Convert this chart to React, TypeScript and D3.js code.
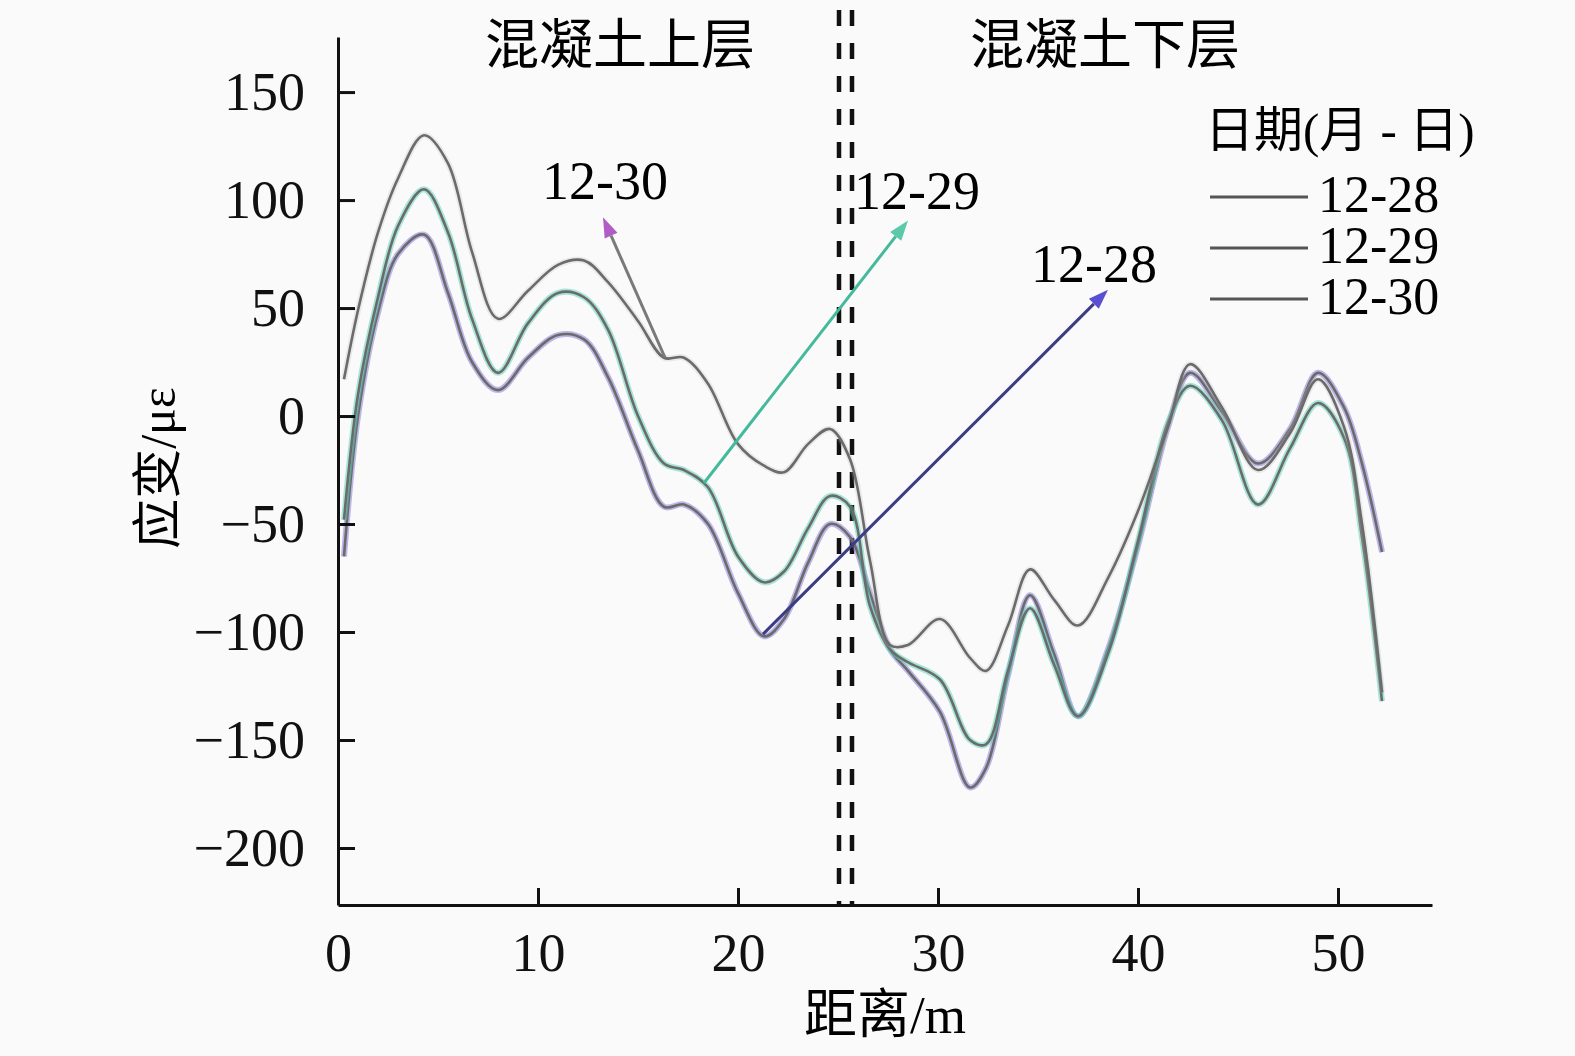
import * as React from 'react';
import {useEffect, useRef} from 'react';
import * as d3 from 'd3';

const W = 1575;
const H = 1056;
const FONT = "'Liberation Serif', 'Noto Sans CJK SC', serif";

// distance along the cable (m)
const distance = [0.3, 1, 2, 3, 4.3, 5.5, 6.7, 8, 9.5, 11, 12.3, 13.5, 15, 16.3, 17.3, 18.5, 20, 21.3, 22.3, 23.5, 24.6, 25.6, 26.6, 27.6, 28.5, 30.1, 31.6, 32.4, 33.5, 34.6, 35.8, 37, 38.5, 40, 41.5, 42.6, 44.2, 46, 47.6, 49, 50.3, 51.2, 52.2];

// strain (με)
const strain1228 = [-65, 0, 48, 75, 84, 57, 25, 12, 27, 37.5, 35.5, 18, -16, -42, -41, -50, -82, -102, -94, -68, -50, -56, -82, -108, -118, -137, -172, -163, -120, -83, -110, -139, -108, -60, -5, 20, 2, -22, -6, 20, 4, -22, -63];
const strain1229 = [-48, 10, 55, 88, 105, 85, 45, 20, 43, 57, 55, 40, 0, -22, -25, -33, -65, -77, -72, -52, -37, -42, -88, -108, -114, -122, -150, -152, -118, -89, -115, -139, -110, -58, -3, 14, -2, -41, -15, 6, -10, -56, -132];
const strain1230 = [17, 49, 85, 110, 130, 117, 76, 45, 58, 70, 72, 62, 44, 27, 27, 15, -13, -23, -26, -13, -6, -20, -67, -106, -106, -94, -112, -118, -97, -71, -85, -97, -75, -44, -5, 24, 4, -25, -8, 17, -5, -50, -128];

const dates = ['12-28', '12-29', '12-30'];
const series = [strain1228, strain1229, strain1230];
const haloColors = ['#7d72d8', '#4fd2b2', '#b8b8b8'];

const yTicks = [-200, -150, -100, -50, 0, 50, 100, 150];
const xTicks = [0, 10, 20, 30, 40, 50];

// boundary between the two concrete layers
const boundaries = [25.05, 25.7];
const layerNames = ['混凝土上层', '混凝土下层'];
const layerCenters = [14.1, 38.35];

// annotation arrows (data coordinates)
const arrowLabels = ['12-30', '12-29', '12-28'];
const arrowFrom = [[16.35, 27], [18.3, -31], [21.25, -101]];
const arrowTo = [[13.25, 92], [28.5, 90.5], [38.5, 58.5]];
const arrowText = [[13.35, 100.5], [28.95, 95.8], [37.8, 62]];
const arrowLine = ['#7a7a7a', '#45b99b', '#3d3a88'];
const arrowHead = ['#b05cc4', '#5cc9ab', '#5a4fd0'];

const App = () => {
    const chartRef = useRef<SVGSVGElement>(null);

    useEffect(() => {
        const svg = d3.select(chartRef.current);
        svg.selectAll('*').remove();

        const x = d3.scaleLinear().domain([0, 54.7]).range([338, 1432]);
        const y = d3.scaleLinear().domain([-226.4, 175.5]).range([905, 37]);

        // dashed boundary lines
        svg.selectAll('line.boundary')
            .data(boundaries)
            .enter()
            .append('line')
            .attr('x1', d => x(d))
            .attr('x2', d => x(d))
            .attr('y1', y(188))
            .attr('y2', y(-226.4))
            .attr('stroke', '#111')
            .attr('stroke-width', 4.5)
            .attr('stroke-dasharray', '16,17');

        const line = d3.line<number>()
            .x((d, i) => x(distance[i]))
            .y(d => y(d))
            .curve(d3.curveCatmullRom.alpha(0.5));

        series.forEach((s, i) => {
            svg.append('path')
                .attr('d', line(s))
                .attr('fill', 'none')
                .attr('stroke', haloColors[i])
                .attr('stroke-opacity', i === 2 ? 0.25 : 0.5)
                .attr('stroke-width', 6);
            svg.append('path')
                .attr('d', line(s))
                .attr('fill', 'none')
                .attr('stroke', '#6b6b6b')
                .attr('stroke-width', 2.6);
        });

        // arrows
        arrowLabels.forEach((lab, i) => {
            const x0 = x(arrowFrom[i][0]), y0 = y(arrowFrom[i][1]);
            const x1 = x(arrowTo[i][0]), y1 = y(arrowTo[i][1]);
            const a = Math.atan2(y1 - y0, x1 - x0);
            const len = 20, hw = 7;
            const bx = x1 - len * Math.cos(a), by = y1 - len * Math.sin(a);
            svg.append('line')
                .attr('x1', x0).attr('y1', y0)
                .attr('x2', bx).attr('y2', by)
                .attr('stroke', arrowLine[i])
                .attr('stroke-width', 3);
            svg.append('path')
                .attr('d', `M${x1},${y1}L${bx - hw * Math.sin(a)},${by + hw * Math.cos(a)}L${bx + hw * Math.sin(a)},${by - hw * Math.cos(a)}Z`)
                .attr('fill', arrowHead[i]);
            svg.append('text')
                .attr('x', x(arrowText[i][0]))
                .attr('y', y(arrowText[i][1]))
                .attr('text-anchor', 'middle')
                .style('font-family', FONT)
                .style('font-size', '54px')
                .text(lab);
        });

        // layer names
        layerNames.forEach((n, i) => {
            svg.append('text')
                .attr('x', x(layerCenters[i]))
                .attr('y', 64)
                .attr('text-anchor', 'middle')
                .style('font-family', FONT)
                .style('font-size', '54px')
                .text(n);
        });

        // axes
        const yAxis = svg.append('g')
            .attr('transform', `translate(${x(0)},0)`)
            .call(d3.axisLeft(y).tickValues(yTicks).tickSizeInner(-17).tickSizeOuter(0).tickPadding(33)
                .tickFormat(d => (+d < 0 ? '\u2212' + Math.abs(+d) : String(d))));
        const xAxis = svg.append('g')
            .attr('transform', `translate(0,${y(-226.4)})`)
            .call(d3.axisBottom(x).tickValues(xTicks).tickSizeInner(-17).tickSizeOuter(0).tickPadding(28));

        [yAxis, xAxis].forEach(g => {
            g.select('.domain').attr('stroke', '#111').attr('stroke-width', 3);
            g.selectAll('.tick line').attr('stroke', '#111').attr('stroke-width', 3);
            g.selectAll('.tick text')
                .attr('fill', '#111')
                .style('font-family', FONT)
                .style('font-size', '54px');
        });

        svg.append('text')
            .attr('x', 885)
            .attr('y', 1033)
            .attr('text-anchor', 'middle')
            .style('font-family', FONT)
            .style('font-size', '53px')
            .text('距离/m');

        svg.append('text')
            .attr('transform', 'translate(175,468) rotate(-90)')
            .attr('text-anchor', 'middle')
            .style('font-family', FONT)
            .style('font-size', '50px')
            .text('应变/με');

        // legend
        svg.append('text')
            .attr('x', 1205)
            .attr('y', 147)
            .style('font-family', FONT)
            .style('font-size', '49px')
            .text('日期(月 - 日)');

        dates.forEach((d, i) => {
            const ly = 197 + i * 51;
            svg.append('line')
                .attr('x1', 1210).attr('x2', 1308)
                .attr('y1', ly).attr('y2', ly)
                .attr('stroke', '#555')
                .attr('stroke-width', 3);
            svg.append('text')
                .attr('x', 1318)
                .attr('y', ly + 15)
                .style('font-family', FONT)
                .style('font-size', '52px')
                .text(d);
        });
    }, []);

    return (
        <svg ref={chartRef} width={W} height={H}
             style={{position: 'absolute', left: 0, top: 0, background: '#fafafa'}} />
    );
};

export default App;
